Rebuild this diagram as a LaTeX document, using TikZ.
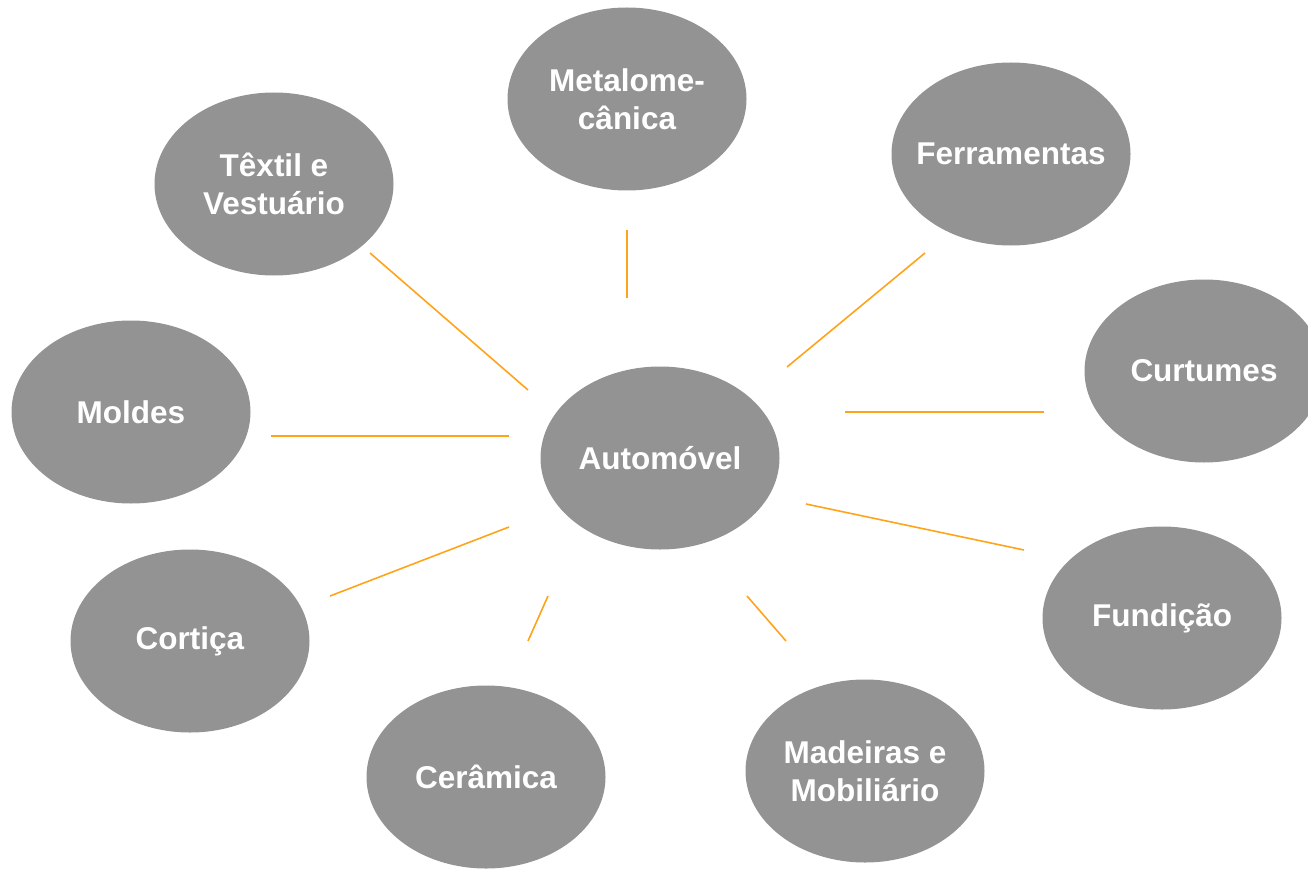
\documentclass[tikz,border=0pt]{standalone}
\usepackage{fontspec}
\setmainfont{Liberation Sans}
\usetikzlibrary{shapes.geometric}
\definecolor{ellgray}{HTML}{939393}
\definecolor{linkorange}{HTML}{FFA31A}
\begin{document}
\begin{tikzpicture}[x=1pt,y=-1pt,
  blob/.style={ellipse,fill=ellgray,minimum width=239pt,minimum height=183pt,
    inner xsep=-40pt,inner ysep=-20pt,text=white,
    font=\fontsize{31.5}{38}\selectfont\bfseries,align=center},
  link/.style={draw=linkorange,line width=1.6pt}]
\useasboundingbox (0,0) rectangle (1308,869);
\clip (0,0) rectangle (1308,869);
\node[blob] (auto) at (660,458) {Automóvel};
\node[blob] (metal) at (627,99) {Metalome-\\cânica};
\node[blob] (textil) at (274,184) {Têxtil e\\Vestuário};
\node[blob] (ferr) at (1011,154) {Ferramentas};
\node[blob] (curt) at (1204,371) {Curtumes};
\node[blob] (mold) at (131,412) {Moldes};
\node[blob] (cort) at (190,641) {Cortiça};
\node[blob] (ceram) at (486,777) {Cerâmica};
\node[blob] (mad) at (865,771) {Madeiras e\\Mobiliário};
\node[blob] (fund) at (1162,618) {Fundição};
% free ends of connectors
\coordinate (t1) at (370,253); \coordinate (t2) at (528,390);
\coordinate (m1) at (627,230); \coordinate (m2) at (627,298);
\coordinate (f1) at (925,253); \coordinate (f2) at (787,367);
\coordinate (c1) at (1044,412); \coordinate (c2) at (845,412);
\coordinate (o1) at (271,436); \coordinate (o2) at (509,436);
\coordinate (u1) at (1024,550); \coordinate (u2) at (806,504);
\coordinate (r1) at (330,596); \coordinate (r2) at (509,527);
\coordinate (e1) at (528,641); \coordinate (e2) at (548,596);
\coordinate (d1) at (786,641); \coordinate (d2) at (747,596);
\draw[link] (t1) -- (t2);
\draw[link] (m1) -- (m2);
\draw[link] (f1) -- (f2);
\draw[link] (c1) -- (c2);
\draw[link] (o1) -- (o2);
\draw[link] (u1) -- (u2);
\draw[link] (r1) -- (r2);
\draw[link] (e1) -- (e2);
\draw[link] (d1) -- (d2);
\end{tikzpicture}
\end{document}
